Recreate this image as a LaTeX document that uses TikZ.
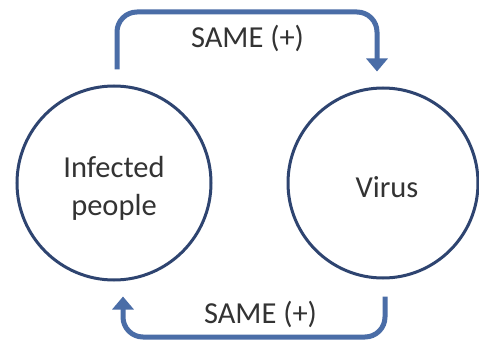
\documentclass[tikz,border=0pt]{standalone}
\usepackage{fontspec}
\setmainfont{Carlito}
\usetikzlibrary{arrows.meta}
\definecolor{ringcol}{HTML}{2E4470}
\definecolor{linkcol}{HTML}{4A6DA7}
\definecolor{txtcol}{HTML}{333333}
\begin{document}
\begin{tikzpicture}[x=1pt,y=-1pt,
  ring/.style={circle,draw=ringcol,line width=3pt,fill=white,inner sep=0pt},
  word/.style={text=txtcol,font=\fontsize{30.5}{38}\selectfont,anchor=base,
    inner sep=0pt,align=center},
  link/.style={draw=linkcol,line width=5pt,rounded corners=20pt,
    -{Triangle[width=21pt,length=13pt]}}]
  \useasboundingbox (0,0) rectangle (479,345);
  \fill[white] (0,0) rectangle (479,345);

  % the two stocks
  \node[ring,minimum size=194pt] (inf) at (114,183) {};
  \node[ring,minimum size=190pt] (vir) at (383,183) {};
  \node[word] (inftop) at (114,177) {Infected};
  \node[word] (infbot) at (114,215) {people};
  \node[word] (virtext) at (387,197) {Virus};

  % reinforcing links
  \draw[link] ([xshift=3pt,yshift=15pt]inf.north) |- (246,12)
      -| ([xshift=-6pt,yshift=15pt]vir.north);
  \draw[link] ([xshift=2pt,yshift=-17pt]vir.south) |- (250,337)
      -| ([xshift=9pt,yshift=-15pt]inf.south);

  \node[word] (toplabel) at (247.5,48) {SAME (+)};
  \node[word] (botlabel) at (260.5,323) {SAME (+)};
\end{tikzpicture}
\end{document}
